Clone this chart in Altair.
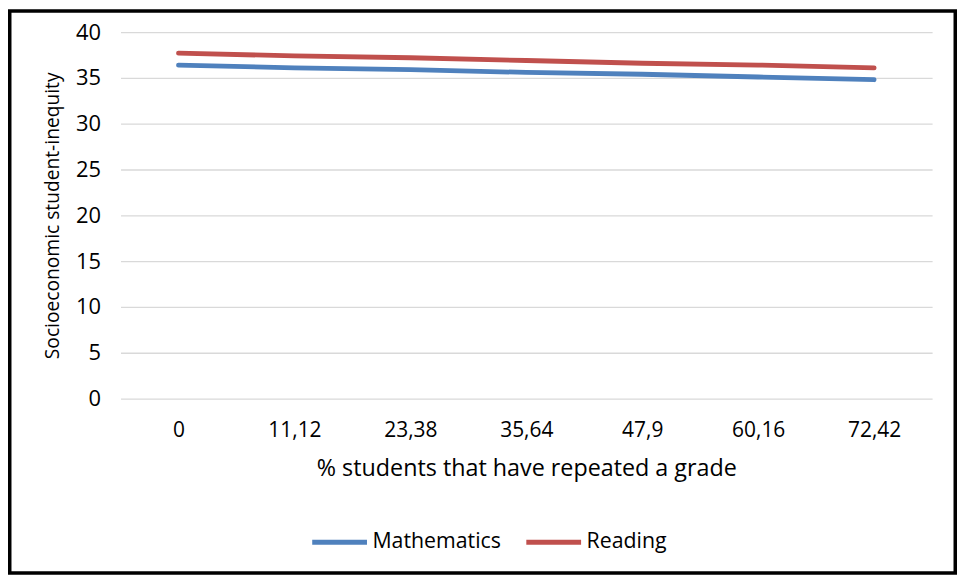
import altair as alt
import pandas as pd

categories = ["0", "11,12", "23,38", "35,64", "47,9", "60,16", "72,42"]
mathematics = [36.4, 36.1, 35.9, 35.6, 35.4, 35.1, 34.8]
reading = [37.7, 37.4, 37.2, 36.9, 36.6, 36.4, 36.1]
series_names = ["Mathematics", "Reading"]
series_colors = ["#4F81BD", "#C0504D"]

rows = []
for i, c in enumerate(categories):
    rows.append({"x": c, "order": i, "series": "Mathematics", "value": mathematics[i]})
    rows.append({"x": c, "order": i, "series": "Reading", "value": reading[i]})
df = pd.DataFrame(rows)

FONT = "Open Sans"
W, H = 815, 368
PL, PT, PR, PB = 113, 23, 25, 177

lines = alt.Chart(df).mark_line(strokeWidth=4.8, strokeCap="round").encode(
    x=alt.X("x:N", sort=categories, scale=alt.Scale(paddingOuter=0.5),
            axis=alt.Axis(title="% students that have repeated a grade", labelAngle=0,
                          labelFontSize=21, titleFontSize=23.4, labelPadding=21,
                          titlePadding=17, ticks=False, domain=False,
                          labelColor="#000", titleColor="#000", titleFontWeight="normal",
                          labelFont=FONT, titleFont=FONT)),
    y=alt.Y("value:Q", scale=alt.Scale(domain=[0, 40]),
            axis=alt.Axis(title="Socioeconomic student-inequity", values=[0, 5, 10, 15, 20, 25, 30, 35, 40],
                          labelFontSize=22, titleFontSize=19.3, ticks=False, domain=False,
                          labelPadding=20, titlePadding=13, gridColor="#d9d9d9", gridWidth=1.3,
                          labelColor="#000", titleColor="#000", titleFontWeight="normal",
                          labelFont=FONT, titleFont=FONT)),
    color=alt.Color("series:N", scale=alt.Scale(domain=series_names, range=series_colors),
                    legend=alt.Legend(title=None, orient="none", direction="horizontal",
                                      legendX=190, legendY=482, symbolType="stroke",
                                      symbolSize=3025, symbolStrokeWidth=4.8,
                                      labelFontSize=21.4, labelFont=FONT, labelColor="#000",
                                      columnPadding=14, labelOffset=3)),
    order="order:Q",
)

border = alt.Chart(pd.DataFrame({"a": [0]})).mark_rect(
    fill=None, stroke="black", strokeWidth=3.5
).encode(
    x=alt.value(-PL + 1.75), x2=alt.value(W + PR - 1.75),
    y=alt.value(-PT + 1.75), y2=alt.value(H + PB - 1.75),
)

chart = alt.layer(lines, border).properties(
    width=W, height=H,
    autosize=alt.AutoSizeParams(type="none"),
    padding={"left": PL, "top": PT, "right": PR, "bottom": PB},
).configure_view(stroke=None)

chart.save("out.html", embed_options={"renderer": "svg", "actions": False})
